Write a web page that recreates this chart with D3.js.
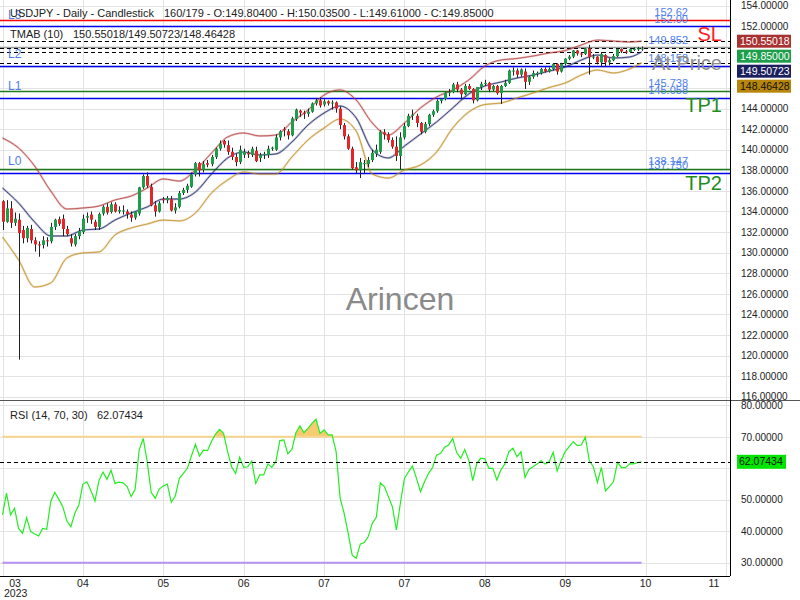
<!DOCTYPE html>
<html>
<head>
<meta charset="utf-8">
<script src="https://cdn.jsdelivr.net/npm/d3@7"></script>
<style>
body { margin: 0; background: #fff; }
svg { display: block; font-family: "Liberation Sans", Arial, sans-serif; }
</style>
</head>
<body>
<svg id="chart" width="800" height="600"></svg>
<script>
// daily USDJPY candles, bar 0 .. 159
const open = [
135.0,133.0,134.3,132.9,133.2,132.2,131.4,132.3,131.2,130.8,
130.75,131.2,131.1,132.5,133.25,133.3,132.3,131.4,130.8,131.6,
132.0,133.4,133.7,133.0,132.5,133.8,134.45,133.95,134.7,134.0,
134.1,134.0,133.7,133.4,133.8,136.35,137.45,136.4,134.6,134.0,
135.2,135.1,135.2,134.1,134.45,135.8,136.1,136.4,137.6,138.7,
138.05,138.7,138.6,139.3,140.1,140.85,140.45,139.8,139.3,138.8,
139.5,139.7,139.5,139.9,139.2,139.5,139.5,140.1,140.0,141.2,
142.0,141.8,141.4,143.0,143.8,143.6,143.5,143.7,144.5,144.8,
144.4,144.7,144.5,144.6,144.0,142.4,141.3,140.1,138.3,138.0,
138.6,138.6,139.0,139.6,139.8,141.7,141.5,140.95,140.3,139.4,
141.2,142.3,143.3,143.3,142.6,141.75,142.5,143.4,143.75,144.75,
144.95,145.55,145.6,146.35,145.85,145.4,146.2,145.9,144.8,146.1,
146.4,146.5,145.85,146.2,145.5,146.2,146.5,147.7,147.7,147.3,
147.6,146.6,147.1,147.45,147.45,147.85,147.6,147.85,148.35,147.6,
148.35,148.85,149.05,149.65,149.35,149.3,149.85,149.0,149.05,148.5,
149.2,148.5,148.7,149.1,149.8,149.55,149.5,149.8,149.8,149.804];
const high = [
135.1,135.1,135.0,133.9,133.8,132.6,132.6,132.7,131.5,131.1,
131.6,131.5,132.9,133.3,133.5,133.7,132.6,131.8,131.8,132.4,
133.7,133.9,134.0,133.2,133.9,134.6,134.8,134.9,134.9,134.5,
134.6,134.2,134.0,134.0,136.4,137.6,137.8,136.7,135.0,135.0,
135.4,135.5,135.5,134.8,136.0,136.3,136.7,137.8,138.8,138.8,
138.9,139.0,139.5,140.2,140.9,140.95,140.9,140.2,139.6,140.4,
140.1,139.9,140.3,140.3,139.7,139.8,140.4,140.3,141.5,141.9,
142.2,142.0,143.2,144.0,143.9,143.8,144.0,144.6,145.0,145.1,
144.9,144.8,144.8,144.7,144.2,142.6,141.5,140.3,138.8,139.2,
139.0,139.3,140.0,140.5,141.9,142.0,141.7,141.2,141.3,141.7,
142.6,143.5,143.9,143.5,142.7,142.7,143.5,143.9,144.9,145.0,
145.6,145.9,146.5,146.6,146.0,146.4,146.4,146.0,146.1,146.6,
146.8,146.6,146.3,146.3,146.3,146.8,147.8,148.0,147.9,147.9,
147.9,147.2,147.7,147.6,147.95,148.0,148.0,148.4,148.4,148.45,
148.9,149.2,149.7,149.7,149.5,149.9,150.2,149.3,149.1,149.5,
149.3,148.9,149.3,149.85,149.85,149.7,149.9,149.95,150.0,150.035];
const low = [
132.2,132.9,132.4,132.6,119.6,130.9,131.0,130.9,130.1,129.6,
130.4,130.6,130.9,132.2,132.6,131.6,131.6,130.6,130.6,131.3,
131.8,132.9,132.8,132.2,132.2,133.6,133.7,133.8,133.9,133.8,
133.7,133.3,133.0,133.2,133.6,136.2,136.3,134.5,133.5,133.9,
134.8,134.8,134.0,133.8,134.3,135.6,135.8,136.3,137.4,137.4,
137.8,138.3,138.4,139.1,139.9,140.2,139.5,139.0,138.4,138.6,
139.2,139.2,139.3,138.8,138.8,139.1,139.2,139.9,139.9,140.9,
141.3,141.0,141.3,142.8,143.2,143.0,143.2,143.6,144.3,144.1,
144.2,144.3,143.9,143.6,142.0,141.0,140.0,138.1,137.7,137.25,
137.7,138.3,138.8,139.3,139.6,141.0,140.7,140.1,138.9,138.1,
141.0,142.2,142.9,142.2,141.5,141.6,142.3,143.2,143.6,144.5,
144.8,145.2,145.5,145.6,144.9,145.3,145.8,144.5,144.7,145.8,
146.2,145.6,145.7,145.35,144.45,146.1,146.4,147.2,147.0,147.1,
145.9,146.3,146.9,147.1,147.3,147.5,147.5,147.7,147.3,147.5,
148.2,148.7,148.9,149.15,149.0,149.2,147.3,148.8,148.3,148.1,
148.1,148.2,148.6,149.0,149.4,149.3,149.4,149.6,149.6,149.61];
const close = [
133.0,134.3,132.9,133.3,131.9,131.4,132.4,131.2,130.8,130.7,
131.2,131.1,132.5,133.2,132.8,132.3,131.8,130.9,131.6,132.1,
133.3,133.55,133.2,132.5,133.75,134.45,133.9,134.7,134.0,134.15,
134.1,133.75,133.4,134.0,136.35,137.45,136.5,134.6,134.0,134.8,
135.1,135.3,134.1,134.4,135.8,136.1,136.5,137.6,138.7,138.0,
138.6,138.55,139.3,140.1,140.6,140.5,139.8,139.3,138.8,140.0,
139.8,139.55,140.1,138.9,139.5,139.6,140.1,140.2,141.2,141.8,
141.9,141.4,143.05,143.9,143.6,143.5,143.7,144.5,144.8,144.3,
144.7,144.5,144.6,144.0,142.4,141.3,140.1,138.2,138.0,138.8,
138.7,139.0,139.7,140.0,141.75,141.5,140.95,140.3,139.4,141.2,
142.3,143.3,143.4,142.6,141.75,142.5,143.4,143.75,144.75,144.95,
145.55,145.6,146.35,145.85,145.4,146.2,145.9,144.8,146.1,146.4,
146.5,145.85,146.2,145.5,146.2,146.5,147.7,147.7,147.3,147.8,
146.6,147.1,147.45,147.45,147.85,147.6,147.85,148.35,147.6,148.35,
148.85,149.05,149.65,149.35,149.3,149.85,149.0,149.05,148.5,149.3,
148.5,148.7,149.1,149.8,149.55,149.5,149.8,149.8,149.85,149.85];

// TMAB (10) bands, read every 4 bars
const bandBars = [0,4,8,12,16,20,24,28,32,36,40,44,48,52,56,60,64,68,72,76,
  80,84,88,92,96,100,104,108,112,116,120,124,128,132,136,140,144,148,152,156,159];
const tmabUpper = [141.14,140.17,138.42,135.99,134.24,134.34,134.53,135.12,135.50,136.28,
  137.16,136.96,138.03,139.68,141.24,141.63,141.34,141.43,142.70,143.86,
  145.32,145.81,144.83,142.60,141.43,142.60,144.06,145.13,145.81,146.78,
  148.14,148.72,148.87,149.11,149.40,149.64,150.18,150.66,150.57,150.47,150.55];
const tmabMiddle = [136.28,134.82,132.98,131.62,131.62,132.20,132.30,133.17,133.85,134.44,
  135.21,135.21,135.89,137.64,139.20,139.78,139.49,139.59,140.75,142.40,
  143.57,144.25,143.09,139.98,139.20,140.36,141.53,142.70,144.06,145.42,
  146.20,146.58,146.97,147.26,147.65,148.04,148.72,149.21,148.92,149.01,149.51];
const tmabLower = [131.52,129.29,126.66,127.05,129.48,129.97,130.06,131.72,132.40,132.78,
  133.17,133.08,133.85,135.80,137.06,137.84,137.64,137.64,139.30,140.95,
  142.11,142.99,141.82,137.64,137.25,138.03,138.52,139.78,142.11,143.67,
  144.40,144.54,145.03,145.51,146.05,146.49,147.26,147.75,147.46,147.85,148.46];

// RSI (14)
const rsi = [
45.2,52.1,45.2,47.3,40.9,39.3,44.3,39.9,39.1,38.5,
40.9,40.6,49.4,52.4,50.2,47.8,43.3,41.4,45.7,48.3,
55.0,55.7,52.9,49.6,56.1,58.8,56.5,59.4,55.2,55.6,
55.4,54.2,51.0,53.3,65.8,69.5,62.1,52.3,50.5,53.4,
54.4,55.0,49.2,51.2,56.8,58.4,60.0,63.9,67.6,63.9,
65.8,65.6,68.5,70.9,72.4,71.1,65.3,60.5,58.4,63.5,
60.3,60.5,62.3,55.2,57.9,57.9,61.4,60.3,62.1,68.8,
69.0,64.6,66.0,71.3,73.5,71.3,72.7,74.3,75.6,71.1,
72.2,70.6,70.6,65.3,50.5,45.7,39.3,32.4,31.4,35.9,
36.4,38.3,42.5,44.4,55.4,54.2,51.0,47.8,40.4,49.0,
56.8,58.9,60.7,56.8,52.6,55.7,58.4,60.3,64.2,64.8,
66.7,67.4,69.5,65.0,63.2,66.0,62.6,56.1,61.6,63.2,
63.0,60.0,60.0,56.3,59.5,61.4,65.3,66.4,63.7,65.3,
57.1,59.7,60.5,61.4,62.4,61.4,62.1,65.1,59.1,62.6,
65.3,66.9,68.5,67.2,67.4,69.9,62.4,60.5,55.5,60.3,
52.8,54.2,55.7,61.9,60.2,60.2,61.4,61.4,61.8,62.07];

const levelNames  = ["SL", "L3", "L2", "TP1", "L1", "TP2", "L0"];
const levelValues = [152.62, 152.00, 148.158, 145.738, 145.058, 138.147, 137.750];
const levelText   = ["152.62", "152.00", "148.158", "145.738", "145.058", "138.147", "137.750"];
const atPrice = 149.852;
const lastClose = 149.85;
const tmabLast = [150.55018, 149.50723, 148.46428];
const rsiLast = 62.07434;
const rsiLevels = [70, 30];

const monthTicks = [0, 20, 40, 60, 80, 100, 120, 140, 160, 180];
const monthLabels = ["03", "04", "05", "06", "07", "07", "08", "09", "10", "11"];
const priceTicks = d3.range(116, 155, 2);
const rsiTicks = [30, 40, 50, 60, 70, 80];

const titleMain = "USDJPY - Daily - Candlestick";
const titleInfo = "160/179 - O:149.80400 - H:150.03500 - L:149.61000 - C:149.85000";

const svg = d3.select("#chart");
const axisX = 730, mainBottom = 400, rsiBottom = 576;

const x = d3.scaleLinear().domain([0, 180]).range([2.5, 726]);
const y = d3.scaleLinear().domain([116, 154]).range([396.7, 5.7]);
const yr = d3.scaleLinear().domain([30, 80]).range([562.7, 405.4]);
const crisp = v => Math.round(v) + 0.5;

// grid
const grid = svg.append("g").attr("stroke", "#e3e3e3").attr("stroke-width", 1);
grid.selectAll(".gx").data(monthTicks).enter().append("line")
  .attr("x1", d => crisp(x(d))).attr("x2", d => crisp(x(d))).attr("y1", 0).attr("y2", rsiBottom);
grid.selectAll(".gy").data(priceTicks).enter().append("line")
  .attr("x1", 0).attr("x2", axisX).attr("y1", d => crisp(y(d))).attr("y2", d => crisp(y(d)));
grid.selectAll(".gr").data(rsiTicks).enter().append("line")
  .attr("x1", 0).attr("x2", axisX).attr("y1", d => crisp(yr(d))).attr("y2", d => crisp(yr(d)));

// watermark
svg.append("text").attr("x", 400).attr("y", 310).attr("text-anchor", "middle")
  .attr("font-size", 32).attr("fill", "#8a8a8a").text("Arincen");

// level lines
const levelColor = n => n === "SL" ? "#ff0000" : (n.startsWith("TP") ? "#1f7a1f" : "#0000ee");
const main = svg.append("g");
main.selectAll(".lvl").data(levelValues).enter().append("line")
  .attr("x1", 0).attr("x2", axisX)
  .attr("y1", d => crisp(y(d))).attr("y2", d => crisp(y(d)))
  .attr("stroke", (d, i) => levelColor(levelNames[i])).attr("stroke-width", 1.3);
main.append("line").attr("x1", 0).attr("x2", axisX)
  .attr("y1", crisp(y(atPrice)) - 1).attr("y2", crisp(y(atPrice)) - 1).attr("stroke", "#999").attr("stroke-width", 1.3);
main.selectAll(".dash").data(tmabLast.concat([lastClose])).enter().append("line")
  .attr("x1", 0).attr("x2", axisX)
  .attr("y1", d => crisp(y(d))).attr("y2", d => crisp(y(d)))
  .attr("stroke", "#000").attr("stroke-dasharray", "4,3");

// bands
function band(values, color) {
  const pts = bandBars.map((b, i) => [b, values[i]]);
  const line = d3.line().x(d => x(d[0])).y(d => y(d[1])).curve(d3.curveMonotoneX);
  main.append("path").attr("d", line(pts)).attr("fill", "none")
    .attr("stroke", color).attr("stroke-width", 2.2).attr("stroke-opacity", 0.3);
  main.append("path").attr("d", line(pts)).attr("fill", "none")
    .attr("stroke", color).attr("stroke-width", 0.9).attr("stroke-opacity", 0.85);
}
band(tmabUpper, "#b23c3c");
band(tmabMiddle, "#1e2466");
band(tmabLower, "#c08a1e");

// candles
const idx = d3.range(close.length);
const candles = main.append("g");
candles.selectAll(".wick").data(idx).enter().append("line")
  .attr("x1", i => crisp(x(i))).attr("x2", i => crisp(x(i)))
  .attr("y1", i => y(high[i])).attr("y2", i => y(low[i]))
  .attr("stroke", "#222").attr("stroke-width", 1);
candles.selectAll(".body").data(idx).enter().append("rect")
  .attr("x", i => crisp(x(i)) - 1.5).attr("width", 3)
  .attr("y", i => y(Math.max(open[i], close[i])))
  .attr("height", i => Math.max(1, Math.abs(y(open[i]) - y(close[i]))))
  .attr("fill", i => close[i] >= open[i] ? "#1d9e4a" : "#e4262b");

// level labels
main.selectAll(".lt").data(levelValues).enter().append("text")
  .attr("x", 688).attr("y", d => y(d) - 3.5).attr("text-anchor", "end")
  .attr("font-size", 11).attr("fill", "#4d7ef0").text((d, i) => levelText[i]);
main.append("text").attr("x", 688).attr("y", y(atPrice) - 4.5).attr("text-anchor", "end")
  .attr("font-size", 11).attr("fill", "#4d7ef0").text(atPrice.toFixed(3));
main.selectAll(".ln").data(levelValues.filter((d, i) => levelNames[i].startsWith("L"))).enter()
  .append("text").attr("x", 8).attr("y", d => y(d) - 7.5)
  .attr("font-size", 12).attr("fill", "#4d7ef0")
  .text(d => levelNames[levelValues.indexOf(d)]);
const bigLabel = (txt, v, color) => main.append("text").attr("x", 722).attr("y", y(v) + 21.5)
  .attr("text-anchor", "end").attr("font-size", 20).attr("fill", color).text(txt);
bigLabel("SL", levelValues[0], "#ff1a1a");
bigLabel("At Price", atPrice, "#8c8c8c");
bigLabel("TP1", levelValues[3], "#228b22");
bigLabel("TP2", levelValues[5], "#228b22");

// headers
const hdr = (tx, px, py) => svg.append("text").attr("x", px).attr("y", py)
  .attr("font-size", 11).attr("fill", "#222").text(tx);
hdr(titleMain, 10, 17);
hdr(titleInfo, 164, 17);
hdr("TMAB (10)", 10, 38);
hdr(tmabLast.map(v => v.toFixed(5)).join("/"), 73, 38);

// RSI panel
const rp = svg.append("g");
rp.append("clipPath").attr("id", "ob").append("rect")
  .attr("x", 0).attr("y", 0).attr("width", axisX).attr("height", yr(70));
rp.append("path").datum(idx)
  .attr("d", d3.area().x(i => x(i)).y0(yr(70)).y1(i => yr(rsi[i])))
  .attr("fill", "#f7c25a").attr("fill-opacity", 0.85).attr("clip-path", "url(#ob)");
rp.selectAll(".rl").data(rsiLevels).enter().append("line")
  .attr("x1", x(0)).attr("x2", x(close.length - 1))
  .attr("y1", d => yr(d)).attr("y2", d => yr(d))
  .attr("stroke", d => d === 70 ? "#f8d58e" : "#b892f2").attr("stroke-width", 2);
rp.append("path").datum(idx)
  .attr("d", d3.line().x(i => x(i)).y(i => yr(rsi[i])))
  .attr("fill", "none").attr("stroke", "#22ee22").attr("stroke-width", 1.2);
rp.append("line").attr("x1", 0).attr("x2", axisX).attr("y1", crisp(yr(rsiLast))).attr("y2", crisp(yr(rsiLast)))
  .attr("stroke", "#000").attr("stroke-dasharray", "4,3");
svg.append("text").attr("x", 10).attr("y", 419).attr("font-size", 11).attr("fill", "#222").text("RSI (14, 70, 30)");
svg.append("text").attr("x", 97).attr("y", 419).attr("font-size", 11).attr("fill", "#222").text(rsiLast.toFixed(5));

// frame
svg.append("line").attr("x1", 0).attr("x2", 800).attr("y1", mainBottom + 0.5).attr("y2", mainBottom + 0.5).attr("stroke", "#555");
svg.append("line").attr("x1", axisX + 0.5).attr("x2", axisX + 0.5).attr("y1", 0).attr("y2", rsiBottom).attr("stroke", "#000");
svg.append("line").attr("x1", 0).attr("x2", axisX).attr("y1", rsiBottom + 0.5).attr("y2", rsiBottom + 0.5).attr("stroke", "#000");

// last value boxes (price panel stacked from the top one)
const boxVals = [tmabLast[0], lastClose, tmabLast[1], tmabLast[2]];
const boxFill = ["#a83232", "#1d9e4a", "#1c1f5e", "#b8860b"];
const boxText = ["#fff", "#fff", "#fff", "#111"];
const top0 = y(boxVals[0]);
const boxY = boxVals.map((v, i) => top0 + i * 15);
const hidden = (py, list, h) => list.some(c => Math.abs(py - c) < h);

// axes
const fmt = d3.format(".5f");
const ay = svg.append("g").attr("transform", `translate(${axisX},0)`)
  .call(d3.axisRight(y).tickValues(priceTicks.filter(t => !hidden(y(t), boxY, 9)))
    .tickFormat(fmt).tickSize(0).tickPadding(11));
const ar = svg.append("g").attr("transform", `translate(${axisX},0)`)
  .call(d3.axisRight(yr).tickValues(rsiTicks.filter(t => !hidden(yr(t), [yr(rsiLast)], 9)))
    .tickFormat(fmt).tickSize(0).tickPadding(11));
const ax = svg.append("g").attr("transform", `translate(0,${rsiBottom})`)
  .call(d3.axisBottom(x).tickValues(monthTicks).tickFormat((d, i) => monthLabels[i]).tickSize(0).tickPadding(3.5));
[ay, ar, ax].forEach(a => {
  a.select(".domain").remove();
  a.selectAll("text").attr("font-family", "Liberation Sans, Arial, sans-serif").attr("font-size", 10.5).attr("fill", "#222");
});
ay.selectAll("text").attr("font-size", 10);
ar.selectAll("text").attr("font-size", 10);
ax.selectAll(".tick").attr("transform", d => `translate(${Math.min(Math.max(x(d), 15), 714)},0)`);
svg.append("text").attr("x", 4).attr("y", 597).attr("font-size", 10.5).attr("fill", "#222").text("2023");

const boxes = svg.append("g");
boxVals.forEach((v, i) => {
  boxes.append("rect").attr("x", 737).attr("y", boxY[i] - 6.5).attr("width", 54).attr("height", 13).attr("fill", boxFill[i]);
  boxes.append("text").attr("x", 740).attr("y", boxY[i]).attr("dy", "0.35em")
    .attr("font-size", 10.5).attr("fill", boxText[i]).text(fmt(v));
});
boxes.append("rect").attr("x", 737).attr("y", yr(rsiLast) - 7).attr("width", 49).attr("height", 14).attr("fill", "#00e600");
boxes.append("text").attr("x", 739).attr("y", yr(rsiLast)).attr("dy", "0.35em")
  .attr("font-size", 10.5).attr("fill", "#111").text(rsiLast.toFixed(5));
</script>
</body>
</html>
